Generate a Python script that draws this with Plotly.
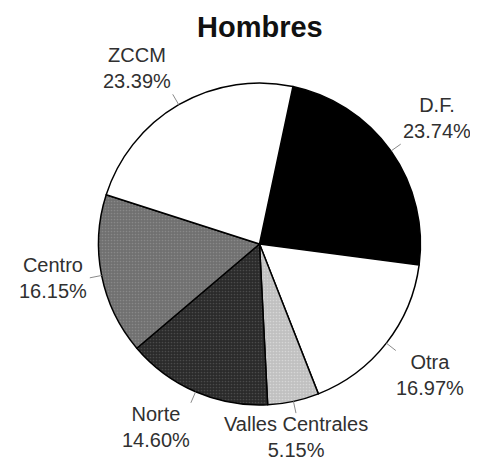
import math
import plotly.graph_objects as go

# ---- data ----
title_text = "Hombres"
labels = ["D.F.", "Otra", "Valles Centrales", "Norte", "Centro", "ZCCM"]
values = [23.74, 16.97, 5.15, 14.60, 16.15, 23.39]
colors = ["#000000", "#ffffff", "#c0c0c0", "#2a2a2a", "#707070", "#ffffff"]
pattern_fg = ["#000000", "#ffffff", "#d6d6d6", "#4a4a4a", "#888888", "#ffffff"]
pattern_shape = ["", "", ".", ".", ".", ""]

# ---- layout constants (pixels, in window coordinates) ----
OFF = 8                    # default page body margin
W, H = 478 - OFF, 463 - OFF
CX, CY, R = 259.5 - OFF, 244.0 - OFF, 161.0
ROT = 12          # degrees clockwise from 12 o'clock where the first slice starts
LEAD = 12         # leader line length
GAP = 2

def px_to_paper(x, y):
    return x / W, 1 - y / H

fig = go.Figure(go.Pie(
    labels=labels, values=values, sort=False, direction="clockwise", rotation=ROT,
    marker=dict(colors=colors, line=dict(color="#000000", width=1.5),
                pattern=dict(shape=pattern_shape, fgcolor=pattern_fg, bgcolor=colors,
                             fillmode="replace", size=3, solidity=0.25)),
    textinfo="none", hoverinfo="label+percent", showlegend=False,
    domain=dict(x=[(CX - R) / W, (CX + R) / W], y=[(H - CY - R) / H, (H - CY + R) / H]),
))

total = sum(values)
cum = 0.0
shapes, annotations = [], []
for lab, v in zip(labels, values):
    mid = math.radians(ROT + (cum + v / 2) / total * 360)
    cum += v
    s, c = math.sin(mid), math.cos(mid)
    xa = "left" if s > 0.3 else ("right" if s < -0.3 else "center")
    ya = "bottom" if c > 0.5 else ("top" if c < -0.5 else "middle")
    g = -1 if ya == "top" else GAP
    x1, y1 = px_to_paper(CX + R * s, CY - R * c)
    x2, y2 = px_to_paper(CX + (R + LEAD) * s, CY - (R + LEAD) * c)
    x3, y3 = px_to_paper(CX + (R + LEAD + g) * s, CY - (R + LEAD + g) * c)
    shapes.append(dict(type="line", xref="paper", yref="paper", x0=x1, y0=y1, x1=x2, y1=y2,
                       line=dict(color="#8a8a8a", width=1)))
    annotations.append(dict(
        xref="paper", yref="paper", x=x3, y=y3, xanchor=xa, yanchor=ya, borderpad=0,
        text=f"{lab}<br>{v / total * 100:.2f}%", showarrow=False, align="center",
        font=dict(family="Liberation Sans, Arial, sans-serif", size=20, color="#303030"),
    ))

annotations.append(dict(
    xref="paper", yref="paper", x=(260 - OFF) / W, y=1 - (27 - OFF) / H,
    xanchor="center", yanchor="middle",
    text=f"<b>{title_text}</b>", showarrow=False,
    font=dict(family="Liberation Sans, Arial, sans-serif", size=29, color="#111111"),
))

fig.update_layout(
    width=W, height=H, margin=dict(l=0, r=0, t=0, b=0),
    paper_bgcolor="#ffffff", plot_bgcolor="#ffffff",
    shapes=shapes, annotations=annotations,
)

fig.write_html("out.html")
